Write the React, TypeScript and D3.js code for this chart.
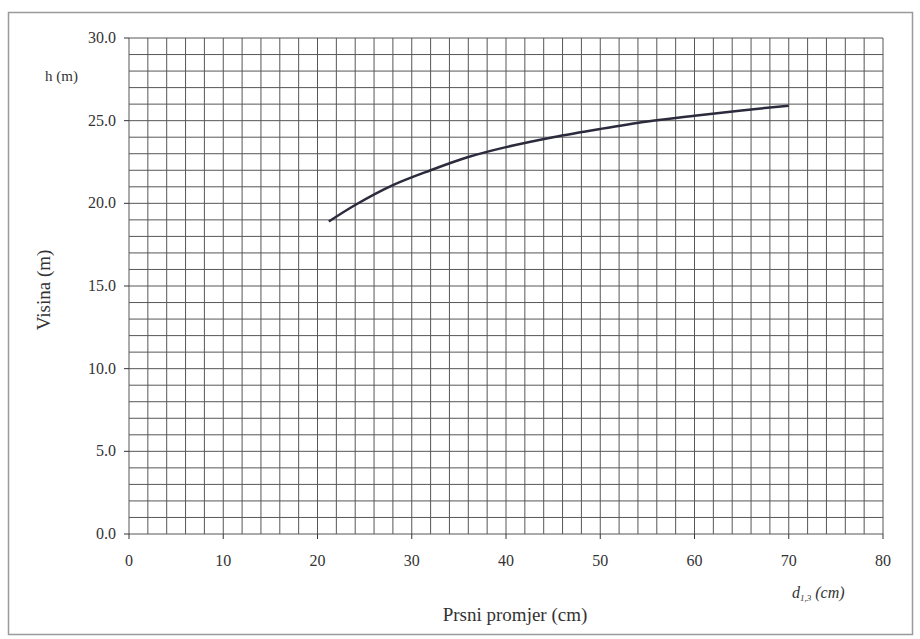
import React from "react";
import * as d3 from "d3";

const diameters = [21.2, 24, 28, 32, 36, 40, 45, 50, 55, 60, 65, 70];
const heights = [18.9, 19.9, 21.1, 22.0, 22.8, 23.4, 24.0, 24.5, 24.95, 25.3, 25.62, 25.9];
const xTicks = [0, 10, 20, 30, 40, 50, 60, 70, 80];
const yTicks = [0, 5, 10, 15, 20, 25, 30];
const xGrid = d3.range(0, 81, 2);
const yGrid = d3.range(0, 31, 1);

export default function App() {
  const W = 920, H = 639;
  const left = 129, right = 883, top = 38, bottom = 534;
  const x = d3.scaleLinear().domain([0, 80]).range([left, right]);
  const y = d3.scaleLinear().domain([0, 30]).range([bottom, top]);
  const line = d3
    .line<number>()
    .x((_, i) => x(diameters[i]))
    .y((d) => y(d))
    .curve(d3.curveCatmullRom.alpha(0.5));
  const font = '"Liberation Serif", "Times New Roman", Tinos, "DejaVu Serif", serif';
  return (
    <svg
      width={W}
      height={H}
      style={{ position: "absolute", left: 0, top: 0, background: "#fff", fontFamily: font }}
    >
      <rect x={8.5} y={12.5} width={904} height={622} fill="#fff" stroke="#9a9a9a" strokeWidth={1.5} />
      <g stroke="#3a3a3a" strokeWidth={1} opacity={0.85}>
        {xGrid.map((v) => (
          <line key={"gx" + v} x1={x(v)} x2={x(v)} y1={top} y2={bottom} />
        ))}
        {yGrid.map((v) => (
          <line key={"gy" + v} x1={left} x2={right} y1={y(v)} y2={y(v)} />
        ))}
      </g>
      <g stroke="#333" strokeWidth={1}>
        {yTicks.map((v) => (
          <line key={"ty" + v} x1={left - 5} x2={left} y1={y(v)} y2={y(v)} />
        ))}
        {xTicks.map((v) => (
          <line key={"tx" + v} x1={x(v)} x2={x(v)} y1={bottom} y2={bottom + 5} />
        ))}
      </g>
      <g fontSize={16} fill="#333" style={{ fontFamily: font }}>
        {yTicks.map((v) => (
          <text key={"ly" + v} x={116} y={y(v) + 5} textAnchor="end">
            {v.toFixed(1)}
          </text>
        ))}
        {xTicks.map((v) => (
          <text key={"lx" + v} x={x(v)} y={566} textAnchor="middle">
            {v}
          </text>
        ))}
      </g>
      <path d={line(heights) || ""} fill="none" stroke="#2b2b3d" strokeWidth={2.5} />
      <text x={45} y={81} fontSize={15} fill="#333" style={{ fontFamily: font }}>h (m)</text>
      <text
        transform={`translate(50,${(top + bottom) / 2 + 4}) rotate(-90)`}
        textAnchor="middle"
        fontSize={19}
        fill="#333"
        style={{ fontFamily: font }}
      >
        Visina (m)
      </text>
      <text x={515} y={621} textAnchor="middle" fontSize={19} fill="#333" style={{ fontFamily: font }}>
        Prsni promjer (cm)
      </text>
      <text x={792} y={598} fontSize={16} fill="#333" fontStyle="italic" style={{ fontFamily: font }}>
        d<tspan fontSize={9} dy={3}>1,3</tspan>
        <tspan dy={-3}> (cm)</tspan>
      </text>
    </svg>
  );
}
